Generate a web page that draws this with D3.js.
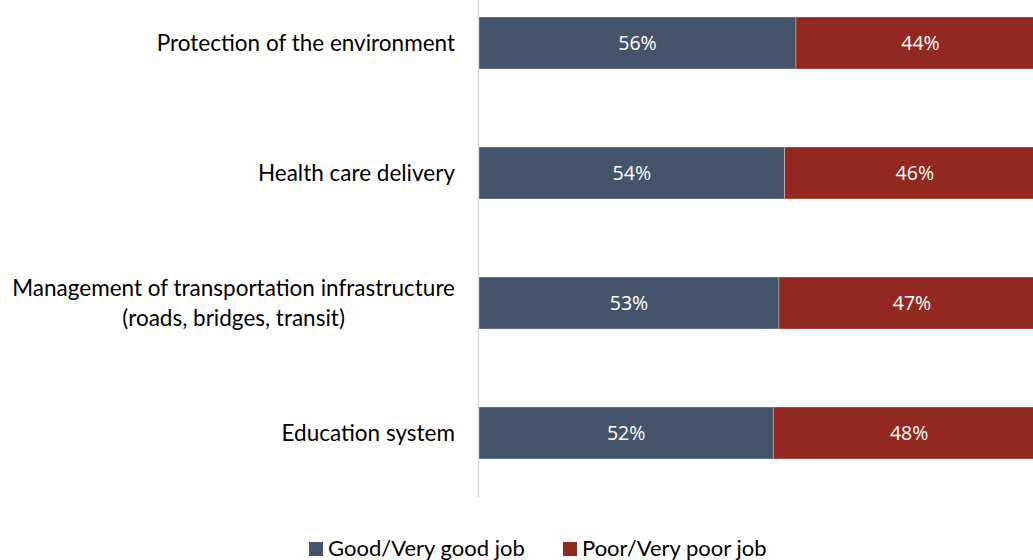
<!DOCTYPE html>
<html>
<head>
<meta charset="utf-8">
<script src="https://cdn.jsdelivr.net/npm/d3@7.9.0/dist/d3.min.js"></script>
<style>
  body { margin: 0; background: #fff; }
  svg { display: block; font-family: Lato, "Open Sans", sans-serif; }
</style>
</head>
<body>
<div id="chart"></div>
<script>
const categories = [
  ['Protection of the environment'],
  ['Health care delivery'],
  ['Management of transportation infrastructure', '(roads, bridges, transit)'],
  ['Education system']
];
const good = [56, 54, 53, 52];
const poor = [44, 46, 47, 48];
const seriesNames = ['Good/Very good job', 'Poor/Very poor job'];
const colors = ['#44546A', '#922820'];

const width = 1033, height = 560;
const svg = d3.select('#chart').append('svg')
  .attr('width', width).attr('height', height);

const x = d3.scaleLinear().domain([0, 100]).range([479, 1045]);
const y = d3.scaleBand()
  .domain(d3.range(categories.length))
  .range([-22, 498])
  .paddingInner(0.6)
  .paddingOuter(0.3);

// axis line
svg.append('line')
  .attr('x1', 478.5).attr('x2', 478.5)
  .attr('y1', 0).attr('y2', 497)
  .attr('stroke', '#d9d9d9').attr('stroke-width', 1.5);

const rows = categories.map((c, i) => ({ i, vals: [good[i], poor[i]] }));

rows.forEach(r => {
  let acc = 0;
  r.vals.forEach((v, s) => {
    const x0 = x(acc), x1 = x(acc + v);
    svg.append('rect')
      .attr('x', x0).attr('y', y(r.i))
      .attr('width', x1 - x0).attr('height', y.bandwidth())
      .attr('fill', colors[s])
      .attr('stroke', '#fff').attr('stroke-opacity', 0.4).attr('stroke-width', 0.8);
    svg.append('text')
      .attr('x', (x0 + x1) / 2)
      .attr('y', y(r.i) + y.bandwidth() / 2)
      .attr('dy', '0.35em')
      .attr('text-anchor', 'middle')
      .attr('fill', '#fff')
      .style('font-family', '"Open Sans", sans-serif')
      .style('font-size', '19.5px')
      .text(v + '%');
    acc += v;
  });
});

// category labels (multi-line ones are centred on their longest line)
const labelRight = 455;
categories.forEach((lines, i) => {
  const cy = y(i) + y.bandwidth() / 2;
  const t = svg.append('text')
    .attr('fill', '#000')
    .style('font-size', '22.5px');
  const spans = lines.map((l, k) => t.append('tspan')
    .attr('y', cy + (k - (lines.length - 1) / 2) * 30)
    .attr('dy', '0.35em')
    .text(l));
  if (lines.length === 1) {
    t.attr('text-anchor', 'end');
    spans[0].attr('x', labelRight);
  } else {
    const w = d3.max(spans, s => s.node().getComputedTextLength());
    t.attr('text-anchor', 'middle');
    spans.forEach(s => s.attr('x', labelRight - w / 2));
  }
});

// legend
const legendX = [309, 563];
seriesNames.forEach((n, s) => {
  svg.append('rect')
    .attr('x', legendX[s]).attr('y', 542)
    .attr('width', 14).attr('height', 14)
    .attr('fill', colors[s]);
  svg.append('text')
    .attr('x', legendX[s] + 19).attr('y', 548)
    .attr('dy', '0.35em')
    .style('font-size', '22px')
    .attr('fill', '#000')
    .text(n);
});
</script>
</body>
</html>
